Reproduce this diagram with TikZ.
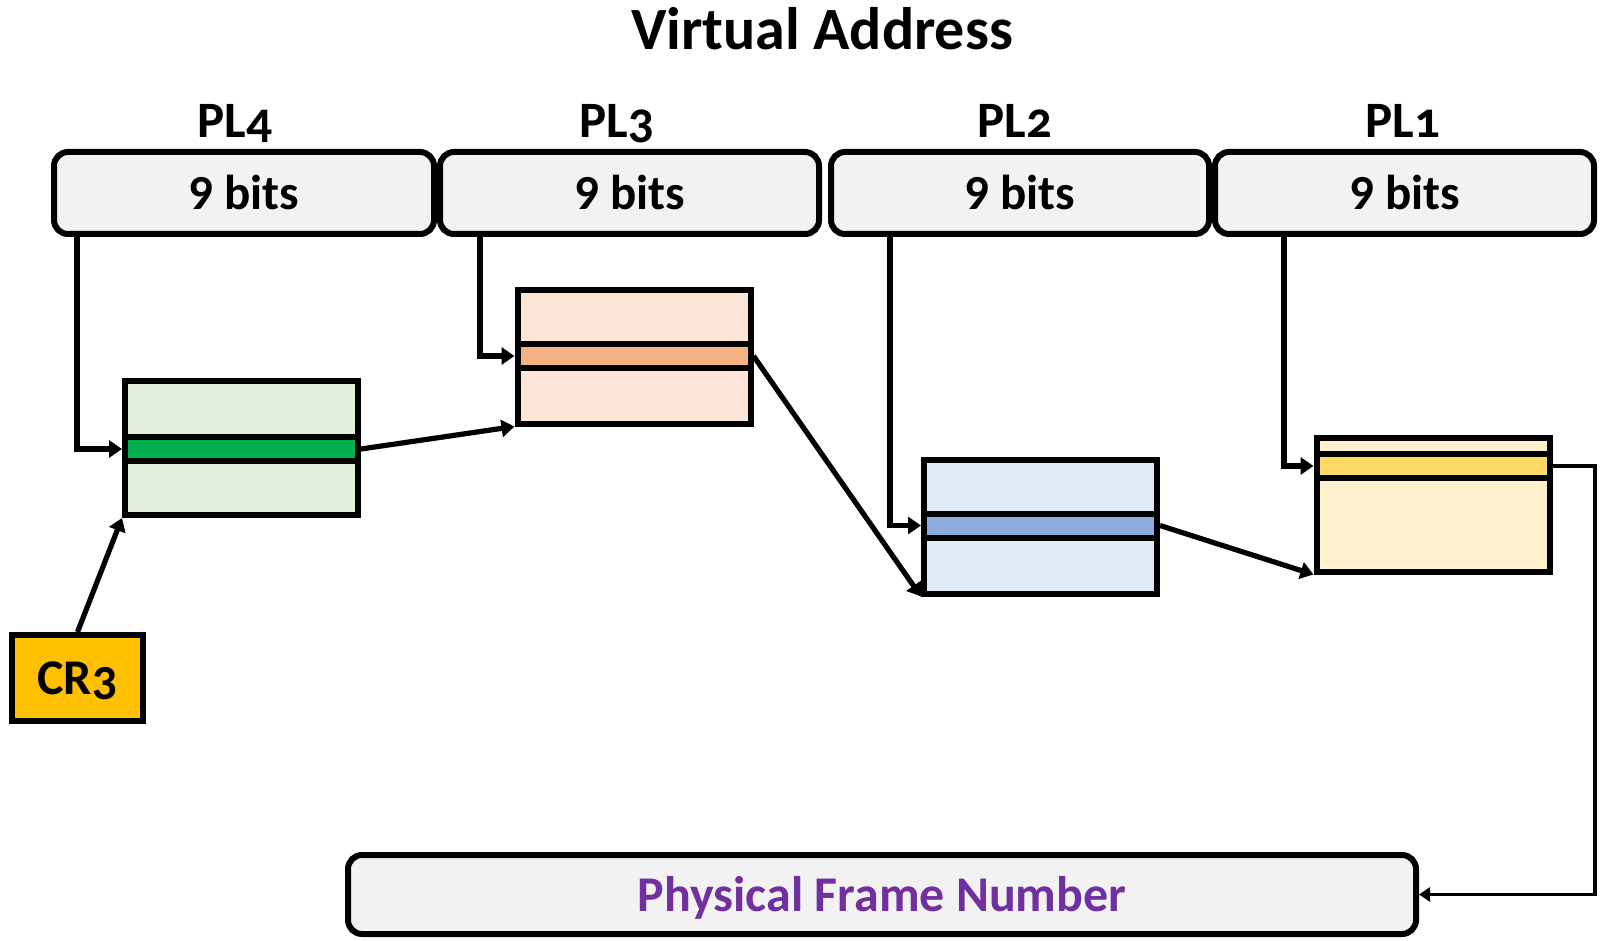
\documentclass[tikz,border=0pt]{standalone}
\usepackage{fontspec}
\setmainfont{Carlito}
\newfontfamily\osfont{Carlito}[Numbers=OldStyle]
\usetikzlibrary{arrows.meta}
\definecolor{boxgray}{HTML}{F2F2F2}
\definecolor{grnlt}{HTML}{E2EFDA}
\definecolor{grndk}{HTML}{00B050}
\definecolor{pchlt}{HTML}{FBE5D6}
\definecolor{pchdk}{HTML}{F4B183}
\definecolor{blult}{HTML}{DEEBF7}
\definecolor{bludk}{HTML}{8FAADC}
\definecolor{yellt}{HTML}{FFF2CC}
\definecolor{yeldk}{HTML}{FFD966}
\definecolor{crgold}{HTML}{FFC000}
\definecolor{pfnpurple}{HTML}{7030A0}
\tikzset{
  bitsbox/.style={draw, line width=3pt, rounded corners=7pt, fill=boxgray,
    minimum width=190pt, minimum height=41pt, inner sep=0pt,
    text height=17pt, text depth=0pt, font=\bfseries\fontsize{24.5}{30}\selectfont},
  levellabel/.style={anchor=base, inner sep=0pt, font=\osfont\bfseries\fontsize{25.5}{30}\selectfont},
  ptable/.style={draw, line width=3pt, minimum width=116.5pt, minimum height=67pt, inner sep=0pt},
  pentry/.style={draw, line width=3pt, minimum width=116.5pt, minimum height=12pt, inner sep=0pt},
  link/.style={line width=2.6pt, -{Triangle[length=6.5pt,width=8.5pt]}},
  thinlink/.style={line width=1.8pt, -{Triangle[length=5.5pt,width=7pt]}}
}
\begin{document}
\begin{tikzpicture}[x=0.5pt,y=-0.5pt]
\useasboundingbox (0,0) rectangle (1600,941);

% title
\node[anchor=base, inner sep=0pt, font=\bfseries\fontsize{30}{36}\selectfont] (title) at (822,50) {Virtual Address};

% level labels
\node[levellabel] (l4) at (235,138) {PL4};
\node[levellabel] (l3) at (617,138) {PL3};
\node[levellabel] (l2) at (1015,138) {PL2};
\node[levellabel] (l1) at (1403,138) {PL1};

% index fields of the virtual address
\node[bitsbox] (b4) at (244,193) {9 bits};
\node[bitsbox, minimum width=189.5pt] (b3) at (629.5,193) {9 bits};
\node[bitsbox, minimum width=189pt] (b2) at (1020,193) {9 bits};
\node[bitsbox, minimum width=189.5pt] (b1) at (1404.5,193) {9 bits};

% page tables with the selected entry
\node[ptable, fill=grnlt] (t4) at (241.5,448) {};
\node[pentry, fill=grndk] (t4s) at (241.5,449) {};

\node[ptable, fill=pchlt] (t3) at (634,356.5) {};
\node[pentry, fill=pchdk] (t3s) at (634,356) {};

\node[ptable, fill=blult] (t2) at (1040.5,526.5) {};
\node[pentry, fill=bludk] (t2s) at (1040.5,525.5) {};

\node[ptable, fill=yellt] (t1) at (1433,504.5) {};
\node[pentry, fill=yeldk] (t1s) at (1433,466) {};

% CR3 register
\node[draw, line width=3pt, fill=crgold, minimum width=65.5pt, minimum height=43pt,
  inner sep=0pt, text height=16pt, text depth=0pt,
  font=\osfont\bfseries\fontsize{25}{30}\selectfont] (cr3) at (77.5,678) {CR3};

% result
\node[draw, line width=3pt, rounded corners=7pt, fill=boxgray, minimum width=534pt,
  minimum height=39.5pt, inner sep=0pt, text height=17pt, text depth=0pt,
  text=pfnpurple, font=\bfseries\fontsize{25}{30}\selectfont] (pfn) at (882,894.5) {Physical Frame Number};

% index lines from the address fields
\coordinate (d4) at (77,235);
\coordinate (d3) at (480,235);
\coordinate (d2) at (890,235);
\coordinate (d1) at (1284,235);
\draw[link] (d4) |- (t4s.west);
\draw[link] (d3) |- (t3s.west);
\draw[link] (d2) |- (t2s.west);
\draw[link] (d1) |- (t1s.west);

% walk through the tables
\draw[link] (cr3.north) -- (t4.south west);
\draw[link] (t4s.east) -- (t3.south west);
\draw[link] (t3s.east) -- (t2.south west);
\draw[link] (t2s.east) -- (t1.south west);

\coordinate (edge) at (1595,0);
\draw[thinlink] (t1s.east) -| (edge |- pfn.east) -- (pfn.east);
\end{tikzpicture}
\end{document}
